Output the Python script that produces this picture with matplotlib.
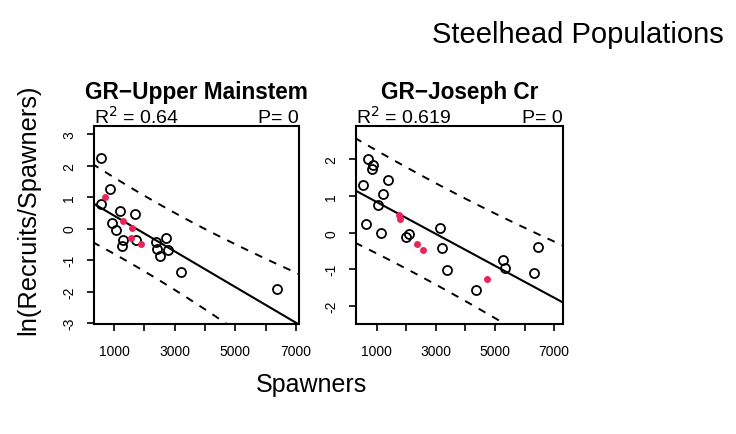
import numpy as np
import matplotlib
matplotlib.use("Agg")
import matplotlib.pyplot as plt

plt.rcParams['font.family'] = ['Liberation Sans', 'DejaVu Sans']

# GR-Upper Mainstem: spawners and ln(recruits/spawners)
um_x = [582, 570, 879, 1187, 934, 1077, 1683, 1297, 1275, 1738, 2399, 2432,
        2509, 2729, 2784, 3225, 6363]
um_y = [2.24, 0.78, 1.27, 0.57, 0.17, -0.05, 0.48, -0.35, -0.54, -0.36, -0.43,
        -0.64, -0.88, -0.30, -0.67, -1.37, -1.93]
um_recent_x = [692, 1297, 1606, 1573, 1903]
um_recent_y = [0.99, 0.25, 0.02, -0.30, -0.49]

# GR-Joseph Cr
jc_x = [718, 831, 887, 550, 1394, 1225, 1056, 640, 1135, 2104, 1991, 3140,
        3219, 3365, 4345, 5257, 5336, 6327, 6462]
jc_y = [2.02, 1.75, 1.84, 1.29, 1.45, 1.05, 0.76, 0.23, 0.0, -0.03, -0.12,
        0.13, -0.41, -1.01, -1.57, -0.74, -0.95, -1.09, -0.39]
jc_recent_x = [1755, 1788, 2374, 2577, 4739]
jc_recent_y = [0.47, 0.38, -0.30, -0.46, -1.27]

titles = ['GR\u2212Upper Mainstem', 'GR\u2212Joseph Cr']
r2_text = ['0.64', '0.619']
p_text = ['0', '0']
x_ticks = [1000, 2000, 3000, 4000, 5000, 6000, 7000]
y_ticks = [[-3, -2, -1, 0, 1, 2, 3], [-2, -1, 0, 1, 2]]
xlims = [(340, 7100), (300, 7300)]
ylims = [(-3.03, 3.26), (-2.49, 2.91)]

red = '#e8245a'


def panel(ax, x, y, xr, yr, title, r2, p, xlim, ylim, yt):
    allx = np.array(x + xr, float)
    ally = np.array(y + yr, float)
    n = len(allx)
    b, a = np.polyfit(allx, ally, 1)
    resid = ally - (a + b * allx)
    s = np.sqrt(np.sum(resid ** 2) / (n - 2))
    xbar = allx.mean()
    sxx = np.sum((allx - xbar) ** 2)
    t = 2.08  # ~95% two-sided t quantile for n-2 df
    xs = np.linspace(xlim[0] - 500, xlim[1] + 500, 200)
    fit = a + b * xs
    half = t * s * np.sqrt(1 + 1 / n + (xs - xbar) ** 2 / sxx)

    ax.plot(xs, fit, color='black', lw=1.5)
    ax.plot(xs, fit + half, color='black', lw=1.4, dashes=(4, 4))
    ax.plot(xs, fit - half, color='black', lw=1.4, dashes=(4, 4))
    ax.plot(x, y, 'o', mfc='none', mec='black', ms=6.5, mew=1.3)
    ax.plot(xr, yr, 'o', color=red, ms=5, mew=0)

    ax.set_xlim(xlim)
    ax.set_ylim(ylim)
    ax.set_xticks(x_ticks)
    ax.set_xticklabels([str(v) if (v // 1000) % 2 == 1 else '' for v in x_ticks])
    ax.set_yticks(yt)
    ax.set_yticklabels([str(v) for v in yt], rotation=90, va='center')
    ax.tick_params(direction='out', length=5.3, width=1.2, labelsize=10)
    ax.tick_params(axis='x', pad=9)
    ax.tick_params(axis='y', pad=7.5)
    for sp in ax.spines.values():
        sp.set_linewidth(1.5)

    ax.text(0.5, 1.141, title, transform=ax.transAxes, ha='center',
            va='baseline', fontsize=16.3, fontweight='bold')
    ax.text(0.0, 1.018, r'R$^2$ = ' + r2, transform=ax.transAxes, ha='left',
            va='baseline', fontsize=14)
    ax.text(1.0, 1.018, 'P= ' + p, transform=ax.transAxes, ha='right',
            va='baseline', fontsize=14)


fig = plt.figure(figsize=(7.36, 4.35), dpi=100)
ax1 = fig.add_axes([94 / 736, 1 - 325 / 435, 205 / 736, 198 / 435])
ax2 = fig.add_axes([356 / 736, 1 - 325 / 435, 207 / 736, 198 / 435])

panel(ax1, um_x, um_y, um_recent_x, um_recent_y, titles[0], r2_text[0],
      p_text[0], xlims[0], ylims[0], y_ticks[0])
panel(ax2, jc_x, jc_y, jc_recent_x, jc_recent_y, titles[1], r2_text[1],
      p_text[1], xlims[1], ylims[1], y_ticks[1])

fig.text(578 / 736, 1 - 43 / 435, 'Steelhead Populations', ha='center',
         va='baseline', fontsize=21)
fig.text(28 / 736, 1 - 210 / 435, 'ln(Recruits/Spawners)', rotation=90,
         ha='center', va='center', fontsize=18.3)
fig.text(311 / 736, 1 - 385 / 435, 'Spawners', ha='center', va='center',
         fontsize=18)

fig.savefig('out.png', dpi=100)
